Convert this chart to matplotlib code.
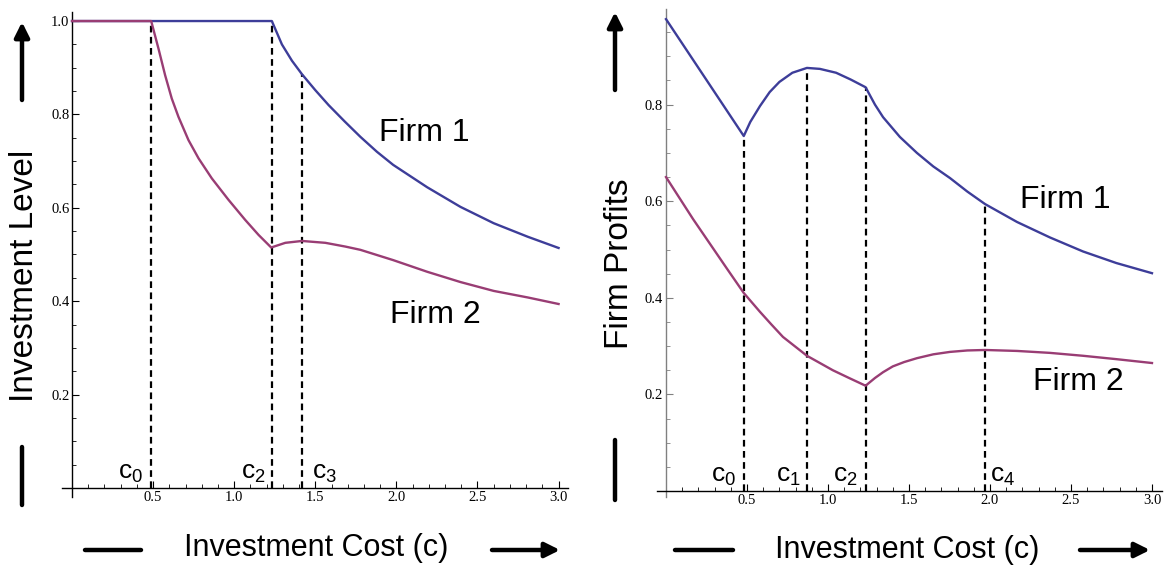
import matplotlib
matplotlib.use("Agg")
import matplotlib.pyplot as plt
from matplotlib.ticker import FixedLocator

plt.rcParams['font.family'] = ['Liberation Sans', 'DejaVu Sans']
plt.rcParams['mathtext.fontset'] = 'custom'
plt.rcParams['mathtext.rm'] = 'Liberation Sans'
plt.rcParams['mathtext.it'] = 'Liberation Sans'
plt.rcParams['mathtext.default'] = 'regular'

# ---------------- data ----------------
# Left panel: investment level
inv_f1_x = [0.0, 1.232, 1.294, 1.356, 1.418, 1.5, 1.582, 1.681, 1.778, 1.88, 1.98,
            2.19, 2.395, 2.6, 2.81, 3.0]
inv_f1_y = [1.0, 1.0, 0.950, 0.915, 0.886, 0.852, 0.820, 0.785, 0.752, 0.720, 0.692,
            0.644, 0.602, 0.567, 0.538, 0.514]
inv_f2_x = [0.0, 0.488, 0.533, 0.574, 0.615, 0.656, 0.718, 0.780, 0.862, 0.965, 1.068,
            1.15, 1.228, 1.315, 1.418, 1.562, 1.685, 1.778, 1.98, 2.19, 2.395, 2.6,
            2.81, 3.0]
inv_f2_y = [1.0, 1.0, 0.941, 0.884, 0.834, 0.795, 0.745, 0.706, 0.663, 0.617, 0.574,
            0.542, 0.515, 0.525, 0.529, 0.525, 0.517, 0.510, 0.488, 0.463, 0.441, 0.422,
            0.408, 0.394]
inv_cuts = [0.49, 1.23, 1.42]
inv_cut_tops = [1.0, 1.0, 0.886]
inv_cut_labels = ['c$_0$', 'c$_2$', 'c$_3$']

# Right panel: firm profits
prof_f1_x = [0.0, 0.48, 0.52, 0.58, 0.64, 0.70, 0.78, 0.87, 0.95, 1.05, 1.14, 1.232,
             1.29, 1.34, 1.444, 1.549, 1.65, 1.753, 1.86, 1.97, 2.167, 2.37, 2.574,
             2.78, 3.0]
prof_f1_y = [0.977, 0.735, 0.764, 0.797, 0.826, 0.847, 0.866, 0.876, 0.874, 0.866, 0.852,
             0.836, 0.800, 0.774, 0.733, 0.700, 0.672, 0.648, 0.620, 0.594, 0.557, 0.525,
             0.496, 0.472, 0.451]
prof_f2_x = [0.0, 0.167, 0.377, 0.48, 0.58, 0.65, 0.722, 0.87, 1.03, 1.13, 1.232,
             1.29, 1.34, 1.40, 1.47, 1.549, 1.65, 1.753, 1.86, 1.97, 2.167, 2.37,
             2.574, 2.78, 3.0]
prof_f2_y = [0.65, 0.563, 0.460, 0.41, 0.371, 0.345, 0.319, 0.280, 0.250, 0.234, 0.218,
             0.234, 0.246, 0.258, 0.267, 0.275, 0.283, 0.288, 0.291, 0.292, 0.290, 0.286,
             0.280, 0.273, 0.265]
prof_cuts = [0.48, 0.87, 1.232, 1.968]
prof_cut_tops = [0.735, 0.876, 0.836, 0.594]
prof_cut_labels = ['c$_0$', 'c$_1$', 'c$_2$', 'c$_4$']

x_major = [0.5, 1.0, 1.5, 2.0, 2.5, 3.0]
x_major_labels = ['0.5', '1.0', '1.5', '2.0', '2.5', '3.0']
inv_y_major = [0.2, 0.4, 0.6, 0.8, 1.0]
inv_y_labels = ['0.2', '0.4', '0.6', '0.8', '1.0']
prof_y_major = [0.2, 0.4, 0.6, 0.8]
prof_y_labels = ['0.2', '0.4', '0.6', '0.8']

BLUE = '#3d3d99'
PURPLE = '#993d74'

W, H = 1165, 565
fig = plt.figure(figsize=(W / 100, H / 100), dpi=100)


def px_axes(x0, x1, ytop, ybot):
    return fig.add_axes([x0 / W, (H - ybot) / H, (x1 - x0) / W, (ybot - ytop) / H])


def style_axes(ax, xlim, ylim, ymaj, ylab, ycolor):
    ax.set_xlim(*xlim)
    ax.set_ylim(*ylim)
    for s in ['top', 'right']:
        ax.spines[s].set_visible(False)
    ax.spines['left'].set_position(('data', 0))
    ax.spines['bottom'].set_position(('data', 0))
    ax.spines['left'].set_color(ycolor)
    ax.spines['left'].set_linewidth(1.0)
    ax.spines['bottom'].set_linewidth(1.0)
    ax.set_xticks(x_major)
    ax.set_xticklabels(x_major_labels)
    ax.xaxis.set_minor_locator(FixedLocator([i / 10 for i in range(1, 31) if i % 5 != 0]))
    ax.set_yticks(ymaj)
    ax.set_yticklabels(ylab)
    ax.yaxis.set_minor_locator(FixedLocator([i / 20 for i in range(1, 20) if i % 4 != 0]))
    ax.tick_params(which='major', direction='in', length=5, width=0.8, pad=2,
                   labelsize=10.5, labelfontfamily='Liberation Serif')
    ax.tick_params(which='minor', direction='in', length=3, width=0.6)
    ax.tick_params(axis='y', which='both', color=ycolor)
    ax.patch.set_alpha(0)


# ---------------- left panel ----------------
axL = px_axes(62.3, 568.3, 11.7, 497.3)
style_axes(axL, (-0.06, 3.06), (-0.02, 1.02), inv_y_major, inv_y_labels, 'black')
axL.plot(inv_f1_x, inv_f1_y, color=BLUE, lw=1.7, zorder=3)
axL.plot(inv_f2_x, inv_f2_y, color=PURPLE, lw=1.7, zorder=3)
axL.vlines(inv_cuts, 0, inv_cut_tops, colors='black', linestyles=(0, (3, 2)), lw=1.6, zorder=2)
axL.text(inv_cuts[0] - 0.055, 0.02, inv_cut_labels[0], ha='right', va='baseline', fontsize=19)
axL.text(inv_cuts[1] - 0.035, 0.02, inv_cut_labels[1], ha='right', va='baseline', fontsize=19)
axL.text(inv_cuts[2] + 0.06, 0.02, inv_cut_labels[2], ha='left', va='baseline', fontsize=19)
axL.text(1.89, 0.76, 'Firm 1', ha='left', va='center', fontsize=23)
axL.text(1.963, 0.37, 'Firm 2', ha='left', va='center', fontsize=23)

# ---------------- right panel ----------------
axR = px_axes(657.1, 1161.7, 9.0, 496.8)
style_axes(axR, (-0.055, 3.06), (-0.012, 0.998), prof_y_major, prof_y_labels, '#808080')
axR.plot(prof_f1_x, prof_f1_y, color=BLUE, lw=1.7, zorder=3)
axR.plot(prof_f2_x, prof_f2_y, color=PURPLE, lw=1.7, zorder=3)
axR.vlines(prof_cuts, 0, prof_cut_tops, colors='black', linestyles=(0, (3, 2)), lw=1.6, zorder=2)
axR.text(prof_cuts[0] - 0.05, 0.02, prof_cut_labels[0], ha='right', va='baseline', fontsize=19)
axR.text(prof_cuts[1] - 0.04, 0.02, prof_cut_labels[1], ha='right', va='baseline', fontsize=19)
axR.text(prof_cuts[2] - 0.05, 0.02, prof_cut_labels[2], ha='right', va='baseline', fontsize=19)
axR.text(prof_cuts[3] + 0.03, 0.02, prof_cut_labels[3], ha='left', va='baseline', fontsize=19)
axR.text(2.185, 0.602, 'Firm 1', ha='left', va='center', fontsize=23)
axR.text(2.265, 0.226, 'Firm 2', ha='left', va='center', fontsize=23)


# ---------------- figure-level labels and arrows ----------------
def ftext(x, y, s, **kw):
    fig.text(x / W, (H - y) / H, s, **kw)


def fline(x0, y0, x1, y1, head=False):
    fig.add_artist(plt.Annotation(
        '', xy=(x1 / W, (H - y1) / H), xytext=(x0 / W, (H - y0) / H),
        xycoords='figure fraction', textcoords='figure fraction',
        arrowprops=dict(arrowstyle='-|>' if head else '-', lw=3.2, color='black',
                        mutation_scale=22, shrinkA=0, shrinkB=0)))


ftext(316, 548, 'Investment Cost (c)', ha='center', va='center', fontsize=22)
ftext(907, 550, 'Investment Cost (c)', ha='center', va='center', fontsize=22)
ftext(25, 276, 'Investment Level', ha='center', va='center', rotation=90, fontsize=24)
ftext(620, 264, 'Firm Profits', ha='center', va='center', rotation=90, fontsize=24)

fline(85, 550, 141, 550)
fline(492, 550, 560, 550, head=True)
fline(675, 550, 733, 550)
fline(1080, 550, 1150, 550, head=True)
fline(22, 100, 22, 22, head=True)
fline(22, 447, 22, 505)
fline(615, 90, 615, 12, head=True)
fline(615, 440, 615, 500)

fig.savefig('out.png', dpi=100)
